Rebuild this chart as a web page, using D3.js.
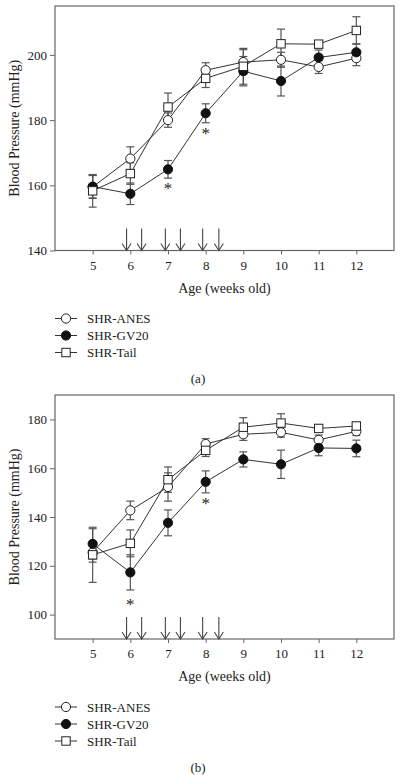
<!DOCTYPE html>
<html><head><meta charset="utf-8">
<script src="https://cdn.jsdelivr.net/npm/d3@7"></script>
<style>body{margin:0;background:#fff}svg{display:block}text{font-family:"Liberation Serif","DejaVu Serif",serif;fill:#222;-webkit-font-smoothing:antialiased}</style>
</head><body>
<svg id="c" width="405" height="775"></svg>
<script>
const weeks = [5,6,7,8,9,10,11,12];
const seriesNames = ["SHR-ANES","SHR-GV20","SHR-Tail"];
const treatmentWeeks = [5.9,6.3,6.93,7.33,7.92,8.35];

// Panel (a)
const aANES = [159.5,168.2,180.0,195.3,197.8,198.5,196.3,199.0];
const aANESerr = [3.5,3.6,2.2,2.3,3.8,2.3,2.0,2.3];
const aGV20 = [159.6,157.4,164.9,182.1,195.0,192.0,199.2,200.8];
const aGV20err = [3.5,3.3,2.7,2.9,4.5,4.6,2.3,2.6];
const aTail = [158.3,163.6,184.0,192.8,196.5,203.4,203.3,207.5];
const aTailerr = [5.0,3.3,4.3,2.8,5.5,4.5,1.0,4.2];
const aTicks = [140,160,180,200];
const aStars = [[7,160.1],[8,177]];

// Panel (b)
const bANES = [125.5,142.7,152.3,169.9,173.9,174.7,171.6,175.1];
const bANESerr = [4.0,3.8,5.8,2.2,2.5,2.0,2.0,1.7];
const bGV20 = [129.0,117.3,137.6,154.4,163.6,161.6,168.3,168.1];
const bGV20err = [6.2,7.2,5.3,4.5,3.1,5.8,3.2,3.4];
const bTail = [124.5,129.2,155.3,167.3,176.8,178.5,176.3,177.3];
const bTailerr = [11.3,5.5,5.2,2.5,3.9,3.8,1.4,1.5];
const bTicks = [100,120,140,160,180];
const bStars = [[6,105.7],[8,147]];

const svg = d3.select("#c");
const L = 55, R = 394;
const x = d3.scaleLinear().domain([4,13]).range([L,R]);

function panel(top, bottom, yDomain, yTicks, series, stars, tag) {
  const g = svg.append("g");
  const y = d3.scaleLinear().domain(yDomain).range([bottom, top]);
  g.append("rect").attr("x",L).attr("y",top).attr("width",R-L).attr("height",bottom-top)
    .attr("fill","none").attr("stroke","#666").attr("stroke-width",1.2);
  const ya = g.append("g").attr("transform",`translate(${L},0)`)
    .call(d3.axisLeft(y).tickValues(yTicks).tickSize(5).tickPadding(3).tickFormat(d3.format("d")));
  ya.select(".domain").remove();
  ya.selectAll("line").attr("stroke","#666");
  ya.selectAll("text").attr("font-size",13).attr("fill","#222");
  const xa = g.append("g").attr("transform",`translate(0,${bottom})`)
    .call(d3.axisBottom(x).tickValues(weeks).tickSize(4).tickPadding(6).tickFormat(d3.format("d")));
  xa.select(".domain").remove();
  xa.selectAll("line").attr("stroke","#666");
  xa.selectAll("text").attr("font-size",13).attr("fill","#222");
  g.append("text").attr("transform",`translate(19,${(top+bottom)/2}) rotate(-90)`)
    .attr("text-anchor","middle").attr("font-size",14).text("Blood Pressure (mmHg)");
  g.append("text").attr("x",(L+R)/2).attr("y",bottom+42).attr("text-anchor","middle")
    .attr("font-size",14).text("Age (weeks old)");
  treatmentWeeks.forEach(w => {
    const ax = x(w);
    const a = g.append("g").attr("stroke","#444").attr("stroke-width",1.1).attr("fill","none");
    a.append("line").attr("x1",ax).attr("x2",ax).attr("y1",bottom-22).attr("y2",bottom);
    a.append("path").attr("d",`M${ax-4.5},${bottom-7}L${ax},${bottom}L${ax+4.5},${bottom-7}`);
  });
  const line = d3.line().x((d,i)=>x(weeks[i])).y(d=>y(d));
  series.forEach(s => {
    g.append("path").attr("d",line(s.v)).attr("fill","none").attr("stroke","#333").attr("stroke-width",1);
  });
  series.forEach(s => {
    s.v.forEach((v,i) => {
      const cx = x(weeks[i]), e = s.e[i];
      const eb = g.append("g").attr("stroke","#555").attr("stroke-width",1.2);
      eb.append("line").attr("x1",cx).attr("x2",cx).attr("y1",y(v-e)).attr("y2",y(v+e));
      eb.append("line").attr("x1",cx-4).attr("x2",cx+4).attr("y1",y(v+e)).attr("y2",y(v+e));
      eb.append("line").attr("x1",cx-4).attr("x2",cx+4).attr("y1",y(v-e)).attr("y2",y(v-e));
    });
  });
  series.forEach(s => {
    s.v.forEach((v,i) => drawMarker(g, s.type, x(weeks[i]), y(v)));
  });
  stars.forEach(([w,v]) => {
    g.append("text").attr("x",x(w)).attr("y",y(v)).attr("dy","0.55em").attr("text-anchor","middle")
      .attr("font-size",17).attr("fill","#333").text("*");
  });
  series.forEach((s,i) => {
    const ly = bottom + 68 + i*17;
    g.append("line").attr("x1",55).attr("x2",77).attr("y1",ly).attr("y2",ly).attr("stroke","#333").attr("stroke-width",1);
    drawMarker(g, s.type, 66, ly);
    g.append("text").attr("x",87).attr("y",ly).attr("dy","0.35em").attr("font-size",13).text(s.name);
  });
  g.append("text").attr("x",198).attr("y",bottom+128).attr("dy","0.35em").attr("text-anchor","middle")
    .attr("font-size",13).text(tag);
}

function drawMarker(g, type, cx, cy) {
  if (type === "open") {
    g.append("circle").attr("cx",cx).attr("cy",cy).attr("r",4.6).attr("fill","#fff").attr("stroke","#222").attr("stroke-width",1);
  } else if (type === "filled") {
    g.append("circle").attr("cx",cx).attr("cy",cy).attr("r",4.6).attr("fill","#111").attr("stroke","#111").attr("stroke-width",1);
  } else {
    g.append("rect").attr("x",cx-4.2).attr("y",cy-4.2).attr("width",8.4).attr("height",8.4).attr("fill","#fff").attr("stroke","#222").attr("stroke-width",1);
  }
}

panel(6, 250.5, [140,215], aTicks, [
  {name:seriesNames[0], type:"open", v:aANES, e:aANESerr},
  {name:seriesNames[1], type:"filled", v:aGV20, e:aGV20err},
  {name:seriesNames[2], type:"square", v:aTail, e:aTailerr}
], aStars, "(a)");

panel(395, 639, [90,190], bTicks, [
  {name:seriesNames[0], type:"open", v:bANES, e:bANESerr},
  {name:seriesNames[1], type:"filled", v:bGV20, e:bGV20err},
  {name:seriesNames[2], type:"square", v:bTail, e:bTailerr}
], bStars, "(b)");
</script>
</body></html>
